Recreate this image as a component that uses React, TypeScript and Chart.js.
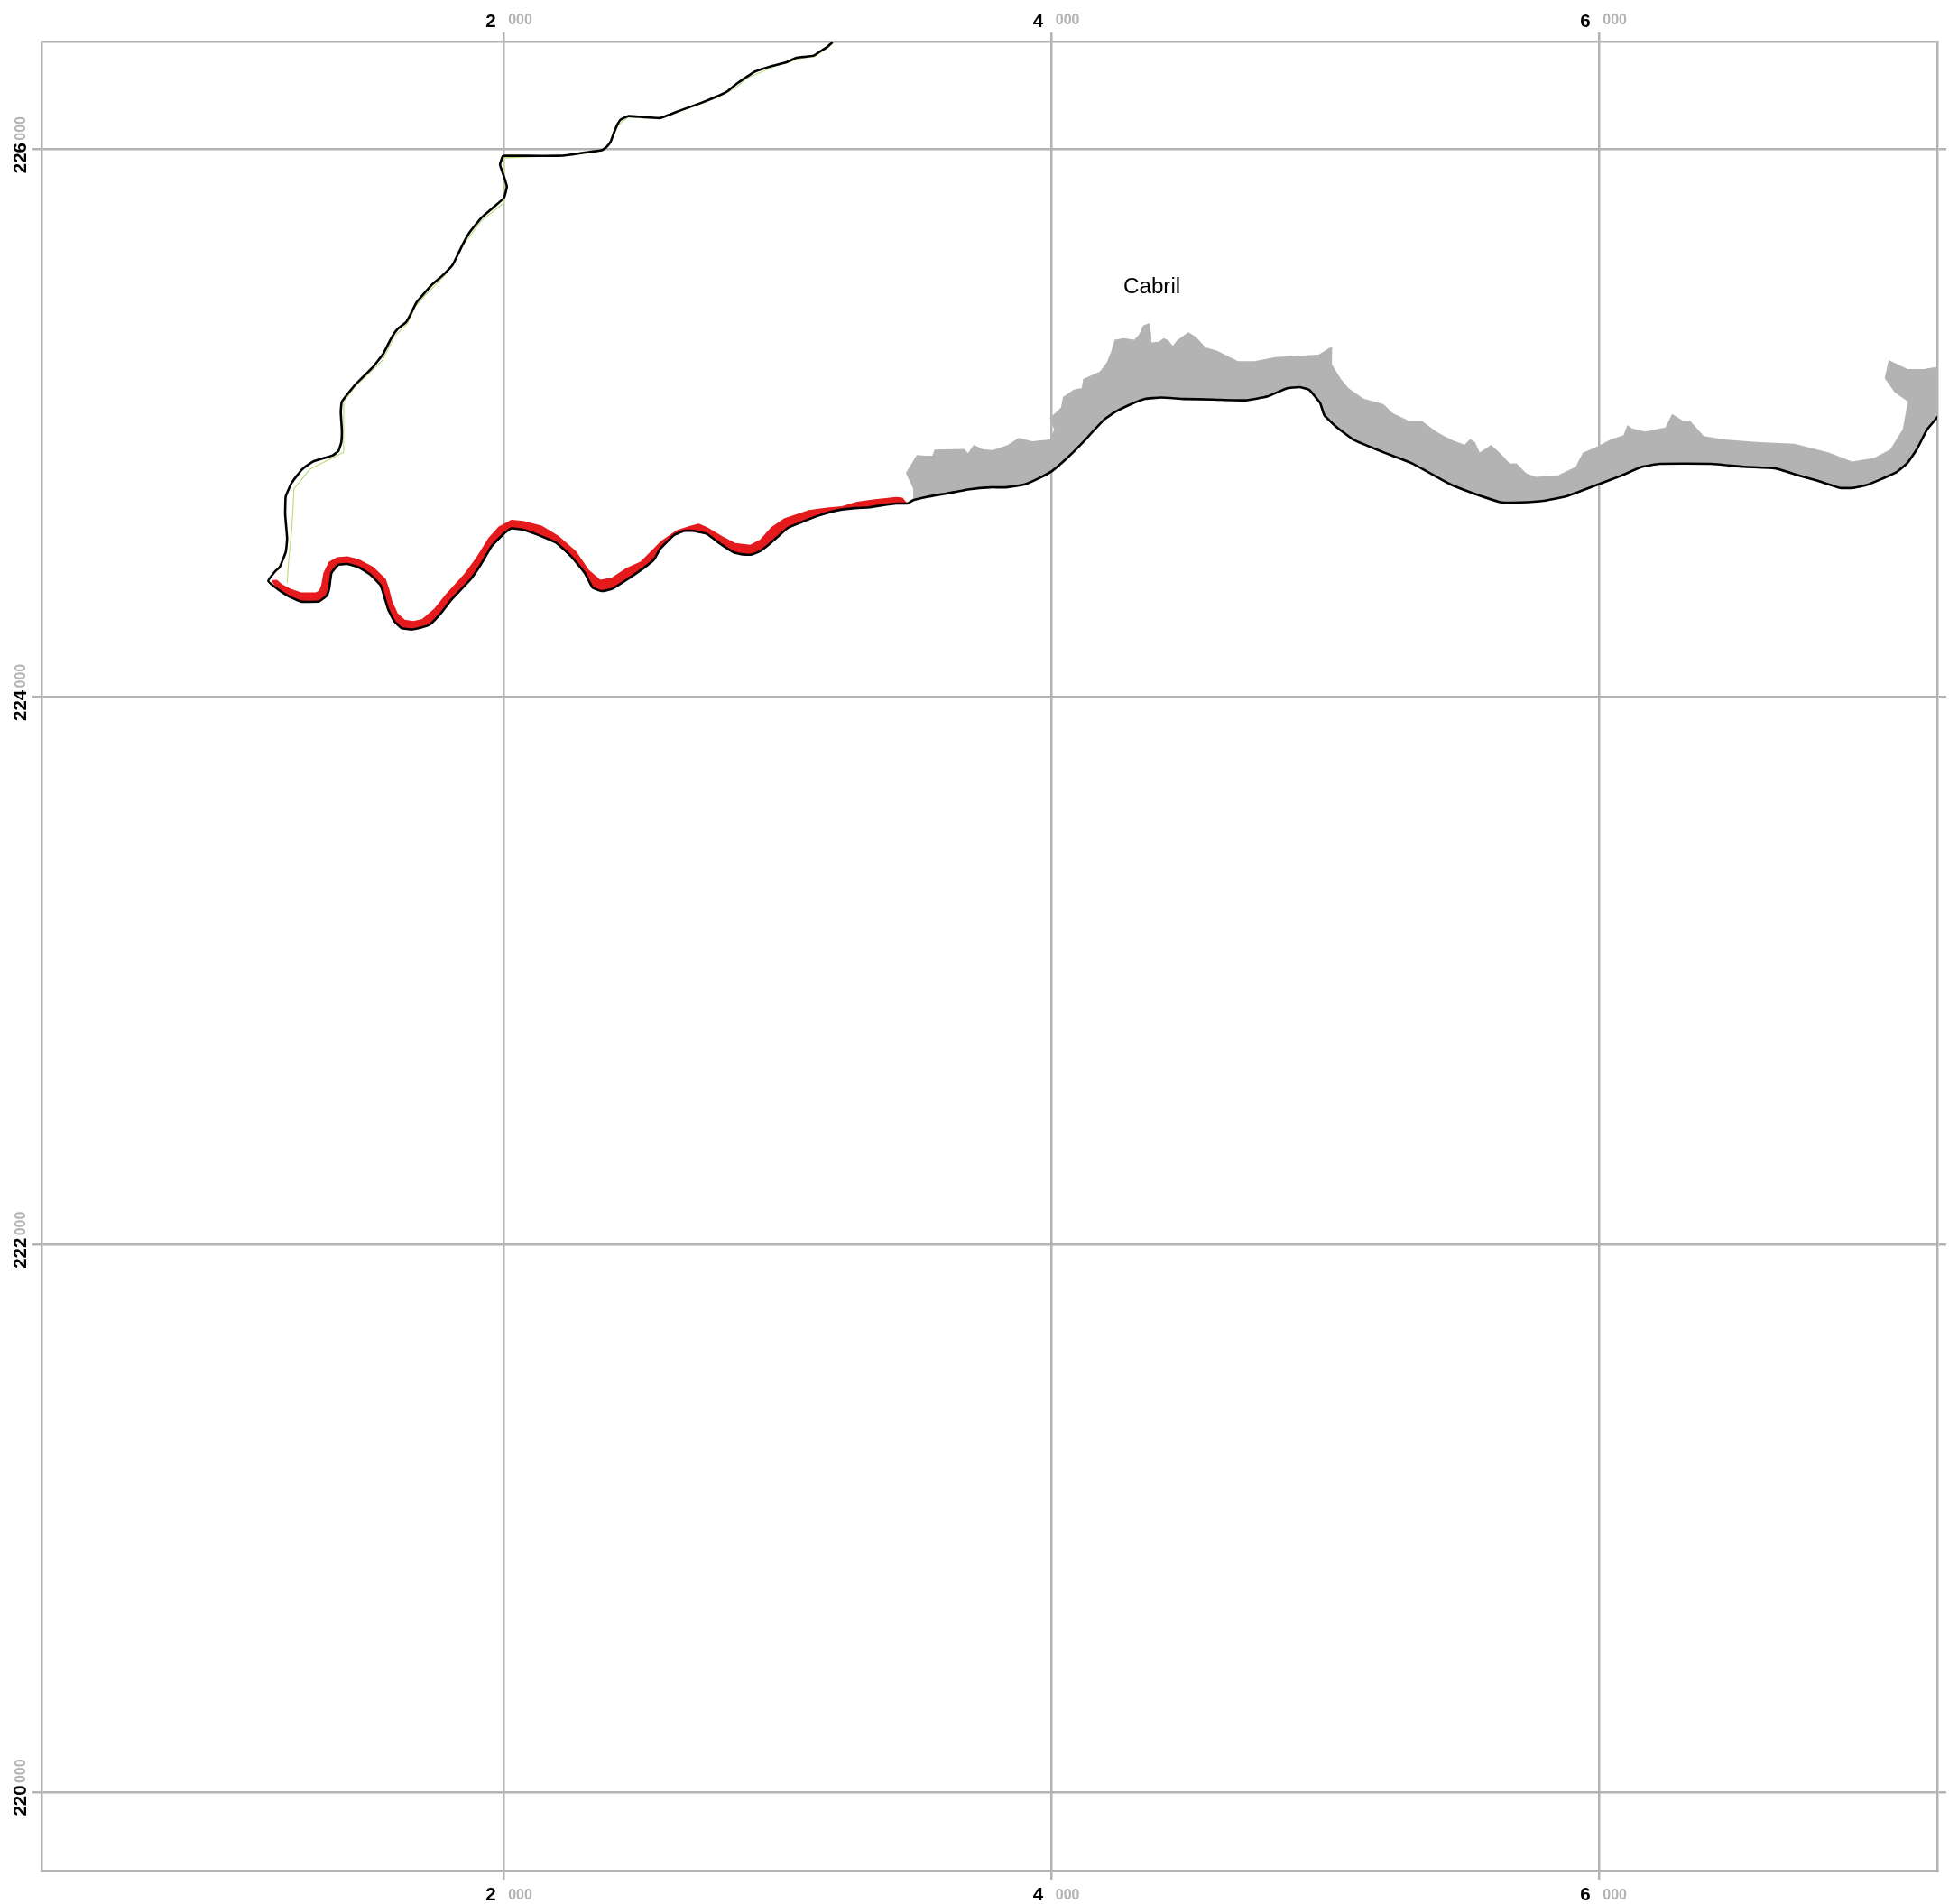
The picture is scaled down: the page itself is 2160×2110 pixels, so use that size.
import React, { useEffect, useRef } from "react";
import { Chart, registerables } from "chart.js";

Chart.register(...registerables);

const xTickValues = [2000, 4000, 6000];
const xTickLabels = ["2", "4", "6"];
const yTickValues = [226000, 224000, 222000, 220000];
const yTickLabels = ["226", "224", "222", "220"];
const tickTail = "000";
const placeName = "Cabril";
const placeAt = [4263, 225475];

const xRange = [309.4, 7237.3];
const yRange = [219713.5, 226394.5];

const northCoastX = [3200,3180,3156,3131,3092,3068,3032,2977,2917,2884,2851,2818,2785,2719,2642,2570,2510,2453,2427,2414,2402,2389,2373,2356,2290,2235,2197,2081,2004,1995,1985,1993,2010,1999,1960,1916,1872,1850,1834,1812,1773,1735,1680,1658,1642,1609,1587,1559,1521,1455,1407,1403,1407,1405,1394,1372,1301,1262,1224,1202,1200,1207,1202,1180,1163,1138];
const northCoastY = [226392,226374,226359,226343,226338,226335,226319,226305,226285,226264,226241,226214,226197,226170,226142,226115,226118,226122,226110,226092,226063,226028,226008,225997,225988,225980,225977,225977,225977,225975,225945,225920,225865,225823,225788,225750,225695,225656,225623,225579,225538,225505,225442,225398,225370,225343,225310,225255,225206,225140,225079,225041,224975,224931,224898,224882,224860,224832,224783,224733,224667,224579,224530,224475,224459,224424];

const southCoastX = [1174,1213,1257,1323,1352,1361,1369,1394,1427,1471,1510,1548,1561,1576,1598,1625,1664,1702,1730,1768,1806,1878,1916,1955,2001,2026,2065,2114,2191,2246,2295,2323,2356,2394,2444,2515,2548,2570,2620,2658,2691,2741,2785,2840,2872,2905,2933,2961,2999,3037,3082,3147,3213,3279,3334,3378,3433,3474];
const southCoastY = [224393,224368,224349,224349,224371,224398,224453,224483,224486,224473,224448,224409,224371,224321,224278,224252,224247,224255,224266,224305,224354,224431,224486,224552,224599,224616,224612,224596,224563,224513,224453,224400,224387,224395,224426,224475,224503,224541,224591,224607,224607,224596,224563,224528,224521,224521,224532,224552,224585,224618,224637,224662,224681,224690,224693,224700,224707,224707];

const eastCoastX = [3495,3544,3619,3701,3777,3834,3903,3960,4004,4055,4105,4193,4238,4294,4342,4401,4484,4591,4711,4790,4859,4906,4942,4982,4997,5039,5106,5209,5317,5434,5469,5551,5646,5716,5799,5881,5999,6081,6158,6223,6411,6529,6647,6729,6800,6882,6929,6982,7035,7088,7127,7162,7200,7235,7257];
const eastCoastY = [224719,224731,224744,224759,224766,224766,224777,224802,224827,224871,224920,225014,225044,225071,225089,225094,225089,225087,225084,225098,225127,225132,225122,225074,225030,224989,224939,224896,224854,224790,224772,224741,224711,224711,224717,224733,224777,224808,224841,224852,224852,224841,224835,224810,224790,224764,224764,224775,224797,224821,224854,224904,224977,225019,225043];

const cliffEdgeX = [3495,3468,3508,3541,3565,3573,3682,3695,3716,3752,3786,3840,3880,3930,3994,4010,3994,4035,4042,4082,4111,4116,4177,4202,4218,4231,4263,4303,4320,4335,4359,4364,4366,4392,4411,4427,4444,4459,4500,4528,4563,4604,4682,4742,4818,4976,5026,5025,5058,5085,5140,5213,5247,5304,5352,5405,5434,5469,5510,5530,5548,5565,5607,5646,5675,5700,5734,5769,5852,5916,5942,5999,6040,6091,6105,6122,6170,6244,6268,6307,6334,6384,6458,6588,6715,6841,6926,7006,7065,7111,7130,7082,7045,7060,7129,7188,7235,7257];
const cliffEdgeY = [224761,224818,224884,224882,224882,224904,224906,224891,224921,224905,224902,224920,224947,224934,224941,224977,225019,225057,225096,225123,225129,225162,225189,225222,225261,225305,225311,225305,225324,225357,225366,225327,225295,225298,225311,225303,225283,225303,225332,225316,225277,225266,225227,225227,225242,225251,225281,225215,225162,225129,225090,225070,225037,225010,225010,224971,224954,224937,224922,224943,224931,224893,224921,224885,224853,224854,224818,224804,224810,224841,224892,224917,224939,224957,224994,224981,224970,224985,225034,225010,225009,224953,224941,224931,224925,224893,224860,224873,224904,224978,225079,225112,225165,225231,225198,225198,225206,225208];

const redEdgeX = [1153,1169,1186,1219,1257,1312,1326,1334,1342,1361,1389,1427,1471,1521,1565,1578,1589,1609,1636,1669,1702,1746,1790,1856,1900,1944,1982,2026,2070,2136,2197,2262,2307,2351,2394,2449,2499,2532,2576,2631,2675,2711,2741,2796,2845,2900,2938,2977,3026,3115,3180,3235,3290,3356,3433,3455,3469];
const redEdgeY = [224424,224426,224411,224393,224380,224380,224387,224409,224453,224492,224508,224512,224500,224473,224431,224393,224349,224305,224280,224275,224283,224321,224376,224448,224508,224579,224621,224645,224641,224624,224587,224530,224464,224426,224434,224470,224492,224525,224569,224607,224621,224631,224618,224585,224560,224554,224574,224618,224651,224681,224690,224695,224711,224720,224728,224726,224709];

const greenX = [1207,1213,1223,1229,1232,1290,1411,1414,1413,1455,1554,1598,1647,1675,1708,1784,1817,1850,1916,1999,2003,1998,2081,2235,2354,2390,2416,2453,2571,2786,2852,2885,2984,3092,3132,3181,3201];
const greenY = [224415,224503,224602,224700,224761,224832,224893,224953,225079,225134,225228,225316,225365,225426,225464,225541,225590,225651,225739,225805,225864,225969,225973,225978,225994,226025,226088,226119,226113,226193,226230,226259,226302,226335,226338,226370,226391];

const GRID = "#b3b3b3";

const toPoints = (xs: number[], ys: number[]) => xs.map((x, i) => ({ x, y: ys[i] }));

const shapePlugin = {
  id: "closedShape",
  beforeDatasetDraw(chart: any, args: any) {
    const ds = chart.data.datasets[args.index];
    if (!ds.closedShape) return;
    const { ctx, chartArea: a } = chart;
    ctx.save();
    ctx.beginPath();
    ctx.rect(a.left, a.top, a.right - a.left, a.bottom - a.top);
    ctx.clip();
    ctx.beginPath();
    args.meta.data.forEach((p: any, i: number) => (i ? ctx.lineTo(p.x, p.y) : ctx.moveTo(p.x, p.y)));
    ctx.closePath();
    ctx.fillStyle = ds.backgroundColor;
    ctx.fill();
    if (ds.outlineWidth) {
      ctx.strokeStyle = ds.backgroundColor;
      ctx.lineWidth = ds.outlineWidth;
      ctx.lineJoin = "round";
      ctx.stroke();
    }
    ctx.restore();
  },
};

const labelPlugin = {
  id: "coordLabels",
  afterDraw(chart: any) {
    const { ctx, scales } = chart;
    const bolder = 'bold 20.5px "Liberation Sans"';
    const small = 'bold 16px "Liberation Sans"';
    ctx.save();
    ctx.textAlign = "left";
    ctx.textBaseline = "alphabetic";
    xTickValues.forEach((v, i) => {
      const px = scales.x.getPixelForValue(v);
      [[29.5, 27], [2106, 2104.5]].forEach(([b1, b2]) => {
        ctx.font = bolder;
        ctx.fillStyle = "#000000";
        ctx.fillText(xTickLabels[i], px - 20.5, b1);
        ctx.font = small;
        ctx.fillStyle = GRID;
        ctx.fillText(tickTail, px + 4.5, b2);
      });
    });
    yTickValues.forEach((v, i) => {
      const py = scales.y.getPixelForValue(v);
      ctx.save();
      ctx.translate(29, py + 26.5);
      ctx.rotate(-Math.PI / 2);
      ctx.font = bolder;
      ctx.fillStyle = "#000000";
      ctx.fillText(yTickLabels[i], 0, 0);
      ctx.restore();
      ctx.save();
      ctx.translate(27.5, py - 10);
      ctx.rotate(-Math.PI / 2);
      ctx.font = small;
      ctx.fillStyle = GRID;
      ctx.fillText(tickTail, 0, 0);
      ctx.restore();
    });
    ctx.font = '24.2px "Liberation Sans"';
    ctx.fillStyle = "#000000";
    ctx.fillText(placeName, scales.x.getPixelForValue(placeAt[0]), scales.y.getPixelForValue(placeAt[1]));
    ctx.restore();
  },
};

function axis(position: string, range: number[], values: number[], size: number, main: boolean) {
  const horizontal = position === "top" || position === "bottom";
  return {
    type: "linear",
    position,
    min: range[0],
    max: range[1],
    afterBuildTicks(s: any) {
      s.ticks = values.map((value) => ({ value }));
    },
    afterFit(s: any) {
      if (horizontal) s.height = size;
      else s.width = size;
    },
    ticks: { display: false },
    border: { display: true, color: GRID, width: 2.5 },
    grid: {
      display: true,
      color: GRID,
      lineWidth: 2.5,
      tickLength: 10,
      drawTicks: true,
      drawOnChartArea: main,
    },
  };
}

export default function App() {
  const ref = useRef<HTMLCanvasElement>(null);
  useEffect(() => {
    const cliffX = [...cliffEdgeX, ...[...eastCoastX].reverse()];
    const cliffY = [...cliffEdgeY, ...[...eastCoastY].reverse()];
    const redX = [...redEdgeX, ...[...southCoastX].reverse()];
    const redY = [...redEdgeY, ...[...southCoastY].reverse()];
    const chart = new Chart(ref.current as HTMLCanvasElement, {
      type: "scatter",
      data: {
        datasets: [
          {
            label: "Coast",
            data: toPoints(
              [...northCoastX, ...southCoastX, ...eastCoastX],
              [...northCoastY, ...southCoastY, ...eastCoastY]
            ),
            showLine: true,
            borderColor: "#000000",
            borderWidth: 2.6,
            borderJoinStyle: "round",
            tension: 0.12,
            pointRadius: 0,
            order: 1,
          },
          {
            label: "Red section",
            data: toPoints(redX, redY),
            closedShape: true,
            outlineWidth: 1.5,
            showLine: false,
            backgroundColor: "#e41a1c",
            pointRadius: 0,
            order: 2,
          },
          {
            label: "Green line",
            data: toPoints(greenX, greenY),
            showLine: true,
            borderColor: "#b8dc78",
            borderWidth: 1.1,
            pointRadius: 0,
            order: 3,
          },
          {
            label: "Cliff",
            data: toPoints(cliffX, cliffY),
            closedShape: true,
            showLine: false,
            backgroundColor: "#b3b3b3",
            pointRadius: 0,
            order: 4,
          },
        ],
      } as any,
      options: {
        animation: false,
        responsive: false,
        devicePixelRatio: 1,
        layout: { padding: 0, autoPadding: false },
        plugins: {
          legend: { display: false },
          title: { display: false },
          tooltip: { enabled: false },
        },
        scales: {
          x: axis("bottom", xRange, xTickValues, 37, true),
          xTop: axis("top", xRange, xTickValues, 46, false),
          y: axis("left", yRange, yTickValues, 46, true),
          yRight: axis("right", yRange, yTickValues, 13, false),
        },
      } as any,
      plugins: [shapePlugin, labelPlugin],
    });
    return () => chart.destroy();
  }, []);
  return (
    <div style={{ position: "absolute", left: 0, top: 0, width: 2160, height: 2110, background: "#ffffff" }}>
      <canvas ref={ref} width={2160} height={2110} style={{ display: "block" }} />
    </div>
  );
}
